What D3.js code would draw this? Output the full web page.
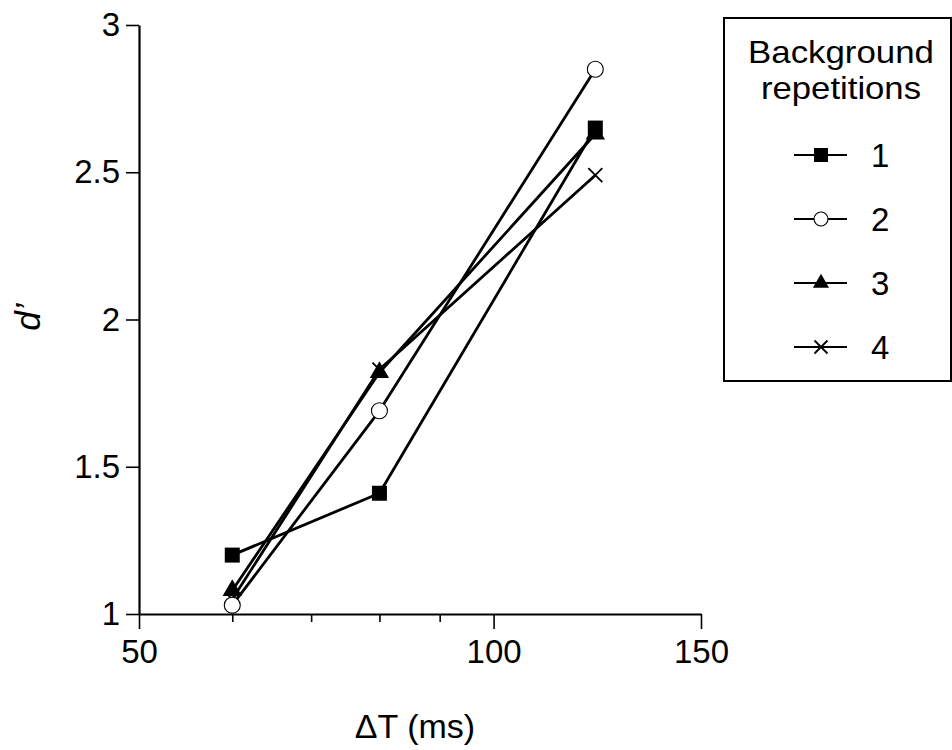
<!DOCTYPE html>
<html>
<head>
<meta charset="utf-8">
<script src="https://cdn.jsdelivr.net/npm/d3@7"></script>
<style>
  html, body { margin: 0; padding: 0; background: #fff; }
  svg { display: block; font-family: "Liberation Sans", Arial, Helvetica, sans-serif; }
</style>
</head>
<body>
<svg id="chart" width="952" height="750"></svg>
<script>
// Inter-onset interval (ms) for each condition
const deltaT = [60, 80, 122];

// Sensitivity d' per number of background repetitions
const seriesNames = ["1", "2", "3", "4"];
const rep1 = [1.20, 1.41, 2.65];
const rep2 = [1.03, 1.69, 2.85];
const rep3 = [1.08, 1.82, 2.63];
const rep4 = [1.05, 1.83, 2.49];
const seriesValues = [rep1, rep2, rep3, rep4];
const markerKinds = ["square", "circle", "triangle", "cross"];

// Axis ticks
const xMajorTicks = [50, 100, 150];
const xMinorTicks = [60, 70, 80, 90];
const yTicks = [1, 1.5, 2, 2.5, 3];

const legendTitle = ["Background", "repetitions"];
const xLabel = "\u0394T (ms)";
const yLabel = "d\u2019";

const svg = d3.select("#chart");

const x = d3.scaleLog().domain([50, 150]).range([139, 701]);
const y = d3.scaleLinear().domain([1, 3]).range([614, 25]);

// ---- axes ----
const xAxisG = svg.append("g").attr("transform", `translate(0,${y(1)})`);
xAxisG.call(d3.axisBottom(x).tickValues(xMajorTicks).tickFormat(d3.format("d"))
  .tickSize(15).tickPadding(11).tickSizeOuter(0));
const xMinorG = svg.append("g").attr("transform", `translate(0,${y(1)})`);
xMinorG.call(d3.axisBottom(x).tickValues(xMinorTicks).tickFormat("")
  .tickSize(8).tickSizeOuter(0));
xMinorG.select(".domain").remove();

const yAxisG = svg.append("g").attr("transform", `translate(${x(50)},0)`);
yAxisG.call(d3.axisLeft(y).tickValues(yTicks).tickFormat(d => String(d))
  .tickSize(13).tickPadding(6).tickSizeOuter(0));

[xAxisG, xMinorG, yAxisG].forEach(g => {
  g.select(".domain").attr("stroke", "#000").attr("stroke-width", 2.2);
  g.selectAll(".tick line").attr("stroke", "#000").attr("stroke-width", 1.6);
  g.selectAll(".tick text")
    .attr("fill", "#000")
    .style("font-size", "33px")
    .style("font-family", "'Liberation Sans', Arial, Helvetica, sans-serif");
});

// axis titles
svg.append("text")
  .attr("x", 415).attr("y", 738)
  .attr("text-anchor", "middle")
  .style("font-size", "34px")
  .text(xLabel);

svg.append("text")
  .attr("transform", "translate(40,317) rotate(-90)")
  .attr("text-anchor", "middle")
  .style("font-size", "35px")
  .style("font-style", "italic")
  .text(yLabel);

// ---- markers ----
function drawMarker(g, kind, cx, cy, s) {
  if (kind === "square") {
    g.append("path")
      .attr("d", d3.symbol(d3.symbolSquare, s * s)())
      .attr("transform", `translate(${cx},${cy})`)
      .attr("fill", "#000");
  } else if (kind === "circle") {
    g.append("circle")
      .attr("cx", cx).attr("cy", cy).attr("r", s / 2)
      .attr("fill", "#fff").attr("stroke", "#000").attr("stroke-width", 1.1);
  } else if (kind === "triangle") {
    g.append("path")
      .attr("d", d3.symbol(d3.symbolTriangle, s * s * 0.5)())
      .attr("transform", `translate(${cx},${cy})`)
      .attr("fill", "#000");
  } else {
    const h = s / 2;
    g.append("path")
      .attr("d", `M${cx - h},${cy - h}L${cx + h},${cy + h}M${cx - h},${cy + h}L${cx + h},${cy - h}`)
      .attr("stroke", "#000").attr("stroke-width", 1.8).attr("fill", "none");
  }
}

const line = d3.line()
  .x((d, i) => x(deltaT[i]))
  .y(d => y(d));

const plot = svg.append("g");
seriesValues.forEach(vals => {
  plot.append("path")
    .datum(vals)
    .attr("d", line)
    .attr("fill", "none")
    .attr("stroke", "#000")
    .attr("stroke-width", 2.8)
    .attr("stroke-linejoin", "round");
});

const markerSizes = { square: 15, circle: 16, triangle: 18, cross: 14 };
// crosses and triangles first so squares and circles sit on top
[3, 2, 1, 0].forEach(si => {
  const kind = markerKinds[si];
  seriesValues[si].forEach((v, i) => {
    drawMarker(plot, kind, x(deltaT[i]), y(v), markerSizes[kind]);
  });
});

// ---- legend ----
const legend = svg.append("g");
legend.append("rect")
  .attr("x", 724).attr("y", 18)
  .attr("width", 227).attr("height", 363)
  .attr("fill", "#fff").attr("stroke", "#000").attr("stroke-width", 2);

const titleWidths = [186, 160];
legend.selectAll("text.title")
  .data(legendTitle)
  .enter().append("text")
  .attr("class", "title")
  .attr("x", 841)
  .attr("y", (d, i) => 63 + i * 36)
  .attr("text-anchor", "middle")
  .attr("textLength", (d, i) => titleWidths[i])
  .attr("lengthAdjust", "spacingAndGlyphs")
  .style("font-size", "32px")
  .text(d => d);

const legendMarkerSizes = { square: 14, circle: 14, triangle: 15, cross: 13 };
seriesNames.forEach((name, i) => {
  const ly = 155 + i * 64;
  legend.append("line")
    .attr("x1", 794).attr("x2", 847)
    .attr("y1", ly).attr("y2", ly)
    .attr("stroke", "#000").attr("stroke-width", 2.2);
  drawMarker(legend, markerKinds[i], 821, ly, legendMarkerSizes[markerKinds[i]]);
  legend.append("text")
    .attr("x", 871).attr("y", ly + 12)
    .style("font-size", "33px")
    .text(name);
});
</script>
</body>
</html>
